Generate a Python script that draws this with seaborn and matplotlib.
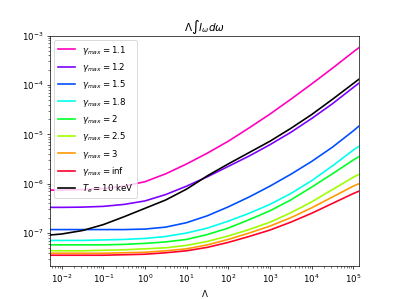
import numpy as np
import pandas as pd
import seaborn as sns
import matplotlib
matplotlib.use("Agg")
import matplotlib.pyplot as plt

# Lambda grid (log10 values)
lam_exp = [-2.28, -2, -1.5, -1, -0.5, 0, 0.5, 1, 1.5, 2, 2.5, 3, 3.5, 4, 4.5, 5, 5.14]

# log10 of Lambda * int I_w dw for each curve
g_1_1 = [-6.13, -6.13, -6.12, -6.10, -6.05, -5.96, -5.80, -5.60, -5.38, -5.14, -4.87, -4.59, -4.29, -3.98, -3.66, -3.33, -3.24]
g_1_2 = [-6.48, -6.48, -6.475, -6.46, -6.42, -6.35, -6.22, -6.05, -5.86, -5.65, -5.44, -5.21, -4.96, -4.68, -4.38, -4.05, -3.96]
g_1_5 = [-6.93, -6.93, -6.93, -6.93, -6.93, -6.92, -6.88, -6.79, -6.65, -6.47, -6.27, -6.05, -5.81, -5.55, -5.26, -4.93, -4.83]
g_1_8 = [-7.15, -7.15, -7.15, -7.14, -7.13, -7.11, -7.07, -7.00, -6.90, -6.76, -6.60, -6.42, -6.20, -5.94, -5.64, -5.32, -5.24]
g_2 = [-7.24, -7.24, -7.24, -7.24, -7.23, -7.21, -7.18, -7.13, -7.03, -6.90, -6.73, -6.55, -6.33, -6.07, -5.80, -5.52, -5.45]
g_2_5 = [-7.36, -7.36, -7.36, -7.35, -7.34, -7.32, -7.30, -7.25, -7.17, -7.06, -6.93, -6.78, -6.59, -6.37, -6.12, -5.87, -5.81]
g_3 = [-7.41, -7.41, -7.41, -7.41, -7.40, -7.39, -7.36, -7.32, -7.24, -7.13, -7.00, -6.86, -6.69, -6.49, -6.27, -6.05, -6.00]
g_inf = [-7.45, -7.45, -7.45, -7.45, -7.44, -7.43, -7.40, -7.36, -7.29, -7.19, -7.07, -6.94, -6.78, -6.60, -6.40, -6.20, -6.15]
te_10 = [-7.04, -7.02, -6.95, -6.83, -6.67, -6.50, -6.33, -6.11, -5.84, -5.60, -5.37, -5.14, -4.88, -4.60, -4.29, -3.97, -3.88]

gamma_labels = ["1.1", "1.2", "1.5", "1.8", "2", "2.5", "3", r"\mathrm{inf}"]
gamma_series = [g_1_1, g_1_2, g_1_5, g_1_8, g_2, g_2_5, g_3, g_inf]

lam = 10.0 ** np.array(lam_exp)
colors = [plt.cm.gist_rainbow(v) for v in np.linspace(1, 0, len(gamma_series))]

fig, ax = plt.subplots(figsize=(6.4, 4.8), dpi=399 / 6.4)

for lab, vals, c in zip(gamma_labels, gamma_series, colors):
    sns.lineplot(x=lam, y=10.0 ** np.array(vals), color=c, ax=ax, linewidth=1.9,
                 label=r"$\gamma_{max} = " + lab + "$")
sns.lineplot(x=lam, y=10.0 ** np.array(te_10), color="black", ax=ax, linewidth=1.9,
             label=r"$T_e = 10$ keV")

ax.set_xscale("log")
ax.set_yscale("log")
ax.set_xlim(lam[0], lam[-1])
ax.set_ylim(10 ** -7.67, 1e-3)
ax.set_xlabel(r"$\Lambda$")
ax.set_title(r"$\Lambda\int I_\omega d\omega$")
ax.legend(loc="upper left")

plt.savefig("out.png", dpi=399 / 6.4)
plt.close()
